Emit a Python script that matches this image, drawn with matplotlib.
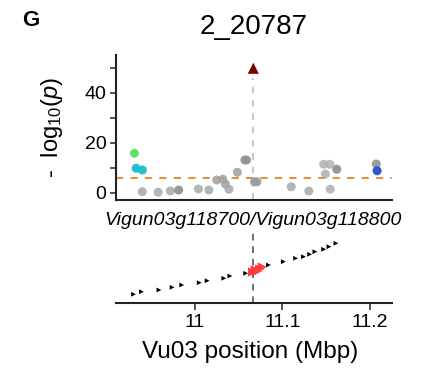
import matplotlib
matplotlib.use("Agg")
import matplotlib.pyplot as plt

plt.rcParams['font.family'] = ['Liberation Sans', 'DejaVu Sans']
plt.rcParams['mathtext.fontset'] = 'custom'
plt.rcParams['mathtext.rm'] = 'Liberation Sans'
plt.rcParams['mathtext.it'] = 'Liberation Sans:italic'

# --- data (positions in Mbp, association as -log10 p) ---
title = "2_20787"
gene_label = "Vigun03g118700/Vigun03g118800"
lead_pos = 11.0667
lead_logp = 49.8
threshold = 5.8

snp_pos = [10.940, 10.958, 10.972, 10.9815, 11.004, 11.016, 11.025, 11.032,
           11.035, 11.039, 11.0485, 11.057, 11.059, 11.068, 11.071, 11.110,
           11.130, 11.147, 11.154, 11.149, 11.162, 11.1545, 11.207]
snp_logp = [0.4, 0.2, 0.7, 1.1, 1.5, 1.1, 5.1, 5.4,
            3.4, 1.4, 8.2, 13.1, 13.1, 4.4, 4.4, 2.4,
            0.7, 11.4, 11.4, 7.5, 9.4, 1.4, 11.5]
snp_shade = ['#a8a8a8', '#a8a8a8', '#a8a8a8', '#858585', '#a8a8a8', '#a8a8a8', '#a0a0a0', '#a0a0a0',
             '#a0a0a0', '#a8a8a8', '#a0a0a0', '#909090', '#909090', '#989898', '#989898', '#a8a8a8',
             '#a8a8a8', '#b0b0b0', '#b0b0b0', '#b0b0b0', '#858585', '#b0b0b0', '#8a8a8a']

hl_pos = [10.931, 10.933, 10.940, 11.208]
hl_logp = [15.8, 9.8, 9.1, 8.8]
hl_color = ['#66e066', '#22bfd0', '#22bfd0', '#3355cc']

# physical map of markers (lower track)
map_pos = [10.930, 10.939, 10.959, 10.974, 10.985, 11.005, 11.014, 11.033,
           11.040, 11.058, 11.084, 11.101, 11.115, 11.124, 11.131, 11.137,
           11.147, 11.153, 11.161]
map_y = [0.87, 1.13, 1.3, 1.57, 1.8, 2.03, 2.23, 2.47,
         2.7, 2.97, 3.8, 4.13, 4.47, 4.63, 4.87, 5.13,
         5.37, 5.63, 5.97]
red_pos = [11.066, 11.069, 11.072, 11.074, 11.077]
red_y = [3.1, 3.3, 3.2, 3.4, 3.6]

xticks = [11.0, 11.1, 11.2]
xticklabels = ['11', '11.1', '11.2']
yticks = [0, 10, 20, 30, 40, 50]
yticklabels = ['0', '', '20', '', '40', '']

W, H = 428, 373
fig = plt.figure(figsize=(W / 100, H / 100), dpi=100)
ax = fig.add_axes([116 / W, 1 - 200 / H, 276 / W, 145 / H])
axb = fig.add_axes([116 / W, 1 - 303 / H, 276 / W, 70 / H], sharex=ax)

xlim = (10.910, 11.225)

# top: association
ax.axhline(threshold, color='#e8822a', lw=1.3, ls=(0, (4, 4)), zorder=1)
ax.plot([lead_pos, lead_pos], [-3, 46], color='#bbbbbb', lw=1.2, ls=(0, (4, 4)), zorder=1)
ax.scatter(snp_pos, snp_logp, s=42, c=snp_shade, alpha=0.85, edgecolors='none', zorder=2)
ax.scatter(hl_pos, hl_logp, s=42, c=hl_color, edgecolors='none', zorder=3)
ax.scatter([lead_pos], [lead_logp], s=64, marker='^', c='#7a0000', edgecolors='none', zorder=4)

ax.set_xlim(*xlim)
ax.set_ylim(-2.9, 55.1)
ax.set_yticks(yticks)
ax.set_yticklabels(yticklabels)
for s in ['top', 'right']:
    ax.spines[s].set_visible(False)
for s in ['left', 'bottom']:
    ax.spines[s].set_linewidth(1.5)
    ax.spines[s].set_color('#222222')
ax.tick_params(axis='y', length=4, width=1.2, color='#333333', labelsize=14, pad=3)
ax.tick_params(axis='x', bottom=False, labelbottom=False)

# bottom: marker map
axb.plot([lead_pos, lead_pos], [0, 7], color='#555555', lw=1.2, ls=(0, (4, 3.5)), zorder=1)
axb.scatter(map_pos, map_y, s=12, marker='>', c='black', edgecolors='none', zorder=2)
axb.scatter(red_pos, red_y, s=45, marker='>', c='#ff3b3b', edgecolors='none', zorder=3)
axb.set_ylim(0, 7)
axb.set_xlim(*xlim)
axb.set_xticks(xticks)
axb.set_xticklabels(xticklabels)
axb.set_yticks([])
for s in ['top', 'right', 'left']:
    axb.spines[s].set_visible(False)
axb.spines['bottom'].set_linewidth(1.5)
axb.spines['bottom'].set_color('#222222')
axb.tick_params(axis='x', length=5, width=1.2, color='#333333', labelsize=14, pad=3)
axb.tick_params(axis='x', labelbottom=True)

# texts
fig.text(22 / W, 1 - 21 / H, 'G', fontsize=16, fontweight='bold', ha='left', va='center')
fig.text(254 / W, 1 - 27 / H, title, fontsize=20, ha='center', va='center')
fig.text(252.5 / W, 1 - 221 / H, gene_label, fontsize=14, style='italic', ha='center', va='center')
fig.text(52 / W, 1 - 127.5 / H, r'-  log$_{10}$($p$)', fontsize=17, rotation=90,
         ha='center', va='center')
fig.text(250 / W, 1 - 352 / H, 'Vu03 position (Mbp)', fontsize=17.5, ha='center', va='center')

fig.savefig('out.png', dpi=100)
